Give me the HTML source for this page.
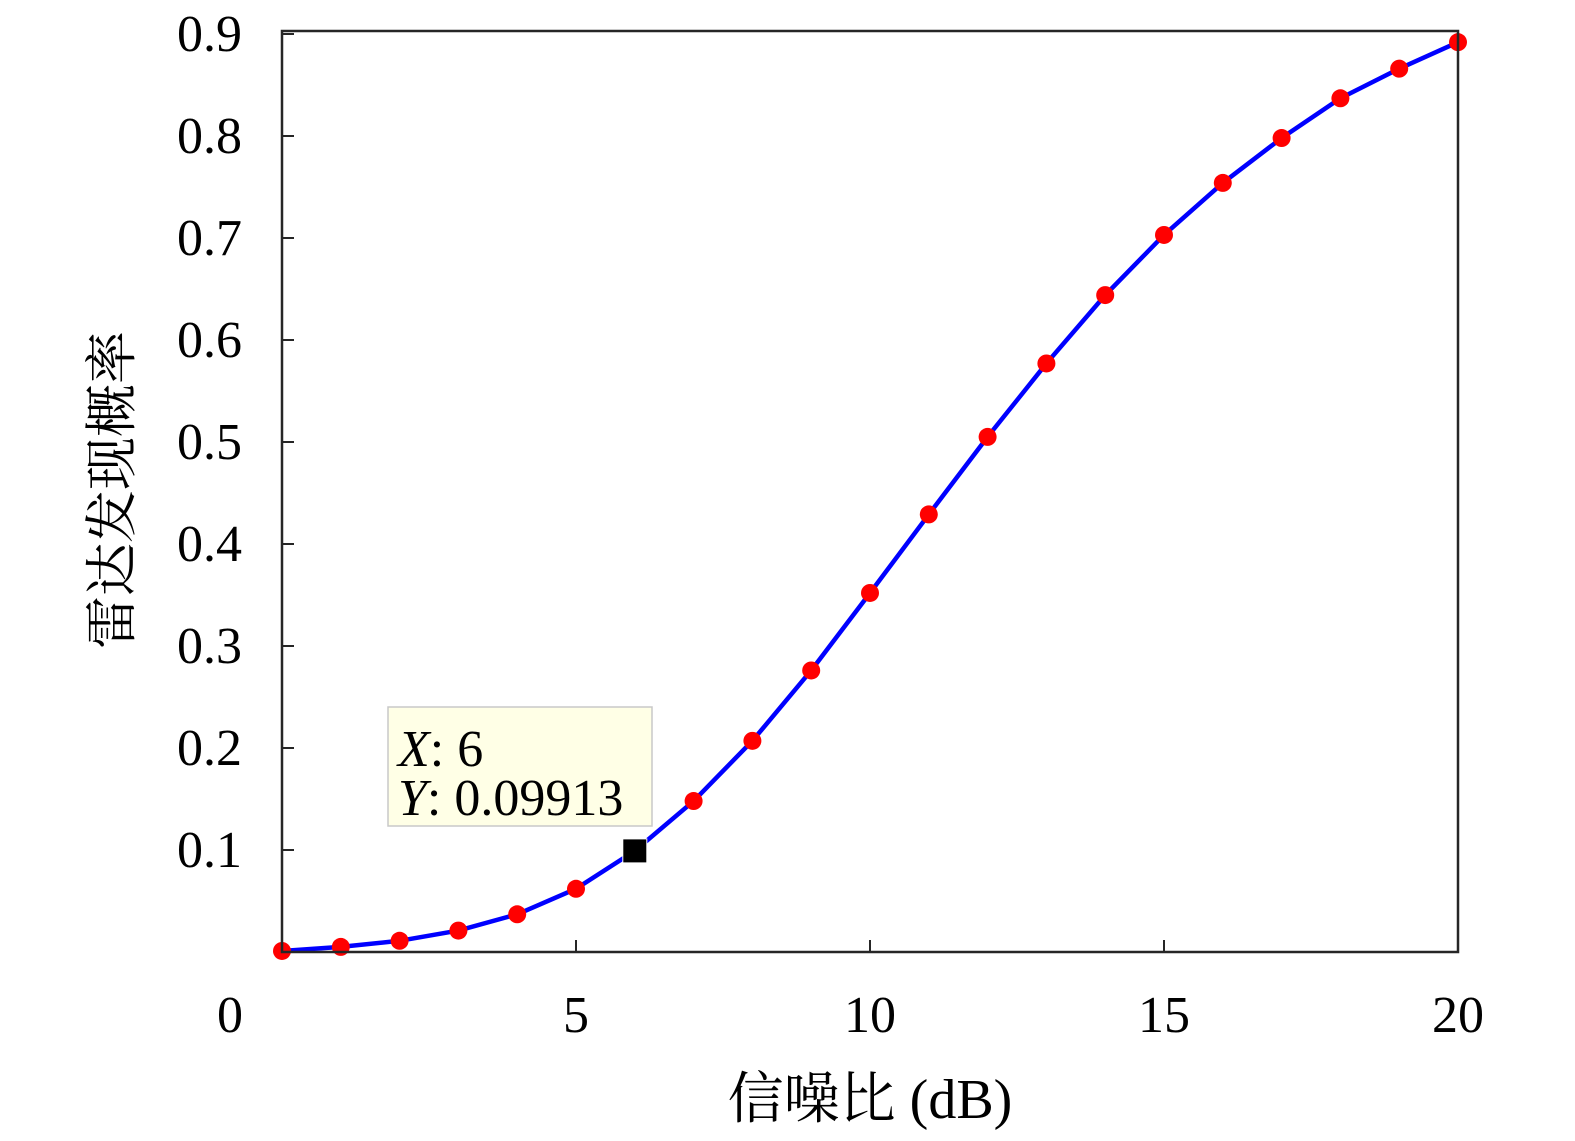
<!DOCTYPE html>
<html><head><meta charset="utf-8">
<style>
html,body{margin:0;padding:0;background:#fff;}
svg text{font-family:"Liberation Serif","Noto Serif CJK SC",serif;fill:#000;}
</style></head>
<body>
<svg id="chart" width="1575" height="1136" viewBox="0 0 1575 1136" xmlns="http://www.w3.org/2000/svg">
<rect x="0" y="0" width="1575" height="1136" fill="#fff"/>
<g id="marks"></g>
<g id="axes"></g>
</svg>
<script>
const snrValues = [0,1,2,3,4,5,6,7,8,9,10,11,12,13,14,15,16,17,18,19,20];
const probValues = [0.001,0.005,0.011,0.021,0.037,0.062,0.09913,0.148,0.207,0.276,0.352,0.429,0.505,0.577,0.644,0.703,0.754,0.798,0.837,0.866,0.892];
const xTicks = [0,5,10,15,20];
const xTickLabels = ["0","5","10","15","20"];
const yTicks = [0.1,0.2,0.3,0.4,0.5,0.6,0.7,0.8,0.9];
const yTickLabels = ["0.1","0.2","0.3","0.4","0.5","0.6","0.7","0.8","0.9"];
const tipX = 6, tipY = 0.09913;

const NS = "http://www.w3.org/2000/svg";
const L = 282, R = 1458, T = 31, B = 952;
const xs = v => L + (v - 0) / 20 * (R - L);
const ys = v => B - v / 0.9 * (B - 34);
function mk(tag, attrs, parent){const e=document.createElementNS(NS,tag);for(const k in attrs)e.setAttribute(k,attrs[k]);parent.appendChild(e);return e;}
const axes = document.getElementById('axes');
const marks = document.getElementById('marks');

const box = mk('rect',{x:L,y:T,width:R-L,height:B-T,fill:'none',stroke:'#262626','stroke-width':2.5},axes);



xTicks.forEach((t,i)=>{
  const x = xs(t);
  const tk = mk('line',{x1:x,y1:B,x2:x,y2:B-12,stroke:'#262626','stroke-width':2},axes);
  
  
  const lx = t===0 ? 230 : x;
  const lb = mk('text',{x:lx,y:1032,'text-anchor':'middle','font-size':52},axes);
  lb.textContent = xTickLabels[i];
  
  
});
yTicks.forEach((t,i)=>{
  const y = ys(t);
  const tk = mk('line',{x1:L,y1:y,x2:L+12,y2:y,stroke:'#262626','stroke-width':2},axes);
  
  
  const lb = mk('text',{x:242,y:y+17,'text-anchor':'end','font-size':52},axes);
  lb.textContent = yTickLabels[i];
  
  
});
const xt = mk('text',{x:870,y:1118,'text-anchor':'middle','font-size':56},axes);
xt.textContent = '信噪比 (dB)';


const yt = mk('text',{x:0,y:0,'text-anchor':'middle','font-size':53,transform:'translate(130,490) rotate(-90)'},axes);
yt.textContent = '雷达发现概率';



const pts = snrValues.map((v,i)=>xs(v)+','+ys(probValues[i])).join(' ');
const line = mk('polyline',{points:pts,fill:'none',stroke:'#0000ff','stroke-width':4.5,'stroke-linejoin':'round'},marks);


snrValues.forEach((v,i)=>{
  const c = mk('circle',{cx:xs(v),cy:ys(probValues[i]),r:9,fill:'#ff0000'},marks);
  
  
});

const tx = xs(tipX), ty = ys(tipY);
const sq = mk('rect',{x:tx-12,y:ty-12,width:24,height:24,fill:'#000',stroke:'#fff','stroke-width':1},marks);


const tip = mk('g',{},marks);


mk('rect',{x:388,y:707,width:264,height:119,fill:'#ffffe6',stroke:'#c8c8c8','stroke-width':1.5},tip);
const t1 = mk('text',{x:398,y:766,'font-size':52},tip);
t1.innerHTML = '<tspan font-style="italic">X</tspan>: '+tipX;
const t2 = mk('text',{x:398,y:815,'font-size':52},tip);
t2.innerHTML = '<tspan font-style="italic">Y</tspan>: '+tipY;
</script>
</body></html>
